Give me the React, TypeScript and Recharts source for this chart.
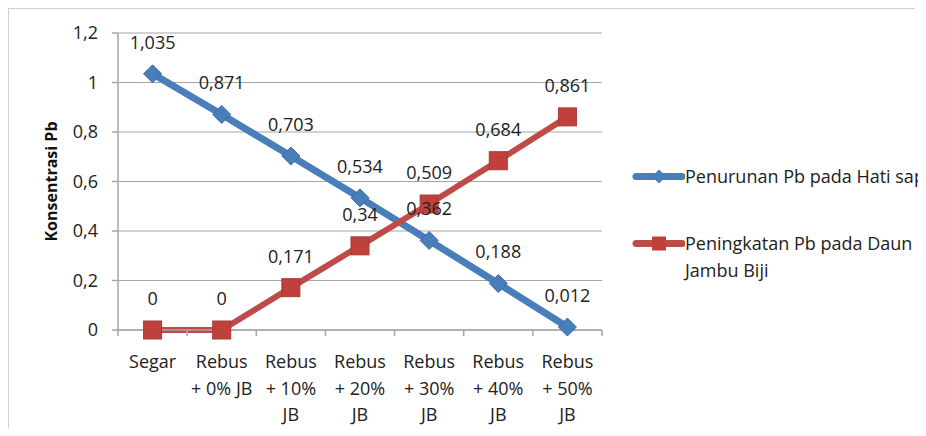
import React from "react";
import { LineChart, Line, XAxis, YAxis, CartesianGrid, LabelList } from "recharts";

const categories = [
  "Segar",
  "Rebus\n+ 0% JB",
  "Rebus\n+ 10%\nJB",
  "Rebus\n+ 20%\nJB",
  "Rebus\n+ 30%\nJB",
  "Rebus\n+ 40%\nJB",
  "Rebus\n+ 50%\nJB",
];
const penurunan = [1.035, 0.871, 0.703, 0.534, 0.362, 0.188, 0.012];
const peningkatan = [0, 0, 0.171, 0.34, 0.509, 0.684, 0.861];
const yTicks = [0, 0.2, 0.4, 0.6, 0.8, 1, 1.2];
const seriesNames = ["Penurunan Pb pada Hati sapi", "Peningkatan Pb pada Daun\nJambu Biji"];
const yLabel = "Konsentrasi Pb";

const data = categories.map((c, i) => ({ cat: c, a: penurunan[i], b: peningkatan[i] }));

const FONT = "'Open Sans', sans-serif";
const FS = 18;
const BLUE = "#4A7EBB";
const RED = "#BE4B48";
const AXIS = "#a6a6a6";

const fmt = (v: number) => String(v).replace(".", ",");

const W = 918;
const H = 420;
const M = { top: 25, right: 324, bottom: 18, left: 50 };
const BAND = (W - M.left - M.right - 60) / categories.length;

const Diamond = (props: any) => {
  const { cx, cy } = props;
  if (cx == null || cy == null) return null;
  const r = 9;
  return (
    <path
      d={`M${cx},${cy - r} L${cx + r},${cy} L${cx},${cy + r} L${cx - r},${cy} Z`}
      fill="#4A7EBB"
      stroke="#3C6AA3"
      strokeWidth={1}
    />
  );
};

const Square = (props: any) => {
  const { cx, cy } = props;
  if (cx == null || cy == null) return null;
  const r = 9;
  return <rect x={cx - r} y={cy - r} width={2 * r} height={2 * r} fill="#C0403C" stroke="#A83834" strokeWidth={1} />;
};

const ValueLabel = (props: any) => {
  const { x, y, value } = props;
  return (
    <text x={x} y={y - 32} textAnchor="middle" dominantBaseline="central" fontFamily={FONT} fontSize={FS} fill="#222">
      {fmt(value)}
    </text>
  );
};

const XTick = (props: any) => {
  const { x, y, payload, index } = props;
  const lines = String(payload.value).split("\n");
  const ay = y - 8;
  return (
    <g>
      <line x1={x - BAND / 2} x2={x - BAND / 2} y1={ay} y2={ay + 6} stroke={AXIS} strokeWidth={1.5} />
      {index === categories.length - 1 && (
        <line x1={x + BAND / 2} x2={x + BAND / 2} y1={ay} y2={ay + 6} stroke={AXIS} strokeWidth={1.5} />
      )}
      {lines.map((l, i) => (
        <text
          key={i}
          x={x}
          y={ay + 31 + i * 26.5}
          textAnchor="middle"
          dominantBaseline="central"
          fontFamily={FONT}
          fontSize={FS}
          fill="#222"
        >
          {l}
        </text>
      ))}
    </g>
  );
};

const LegendBox = () => {
  const items = [
    { color: BLUE, shape: "diamond", name: seriesNames[0] },
    { color: RED, shape: "square", name: seriesNames[1] },
  ];
  return (
    <div style={{ position: "absolute", left: 624, top: 155, fontFamily: FONT, fontSize: FS, color: "#222" }}>
      {items.map((it, i) => {
        const lines = it.name.split("\n");
        return (
          <div key={i} style={{ display: "flex", alignItems: "flex-start", marginBottom: i === 0 ? 40 : 0 }}>
            <svg width={53} height={27} style={{ flex: "none" }}>
              <line x1={4} x2={50} y1={13.5} y2={13.5} stroke={it.color} strokeWidth={7} strokeLinecap="round" />
              {it.shape === "diamond" ? (
                <path d="M27,6.5 L34,13.5 L27,20.5 L20,13.5 Z" fill={BLUE} />
              ) : (
                <rect x={20} y={6.5} width={14} height={14} fill="#C0403C" />
              )}
            </svg>
            <div style={{ whiteSpace: "nowrap", lineHeight: "27px" }}>
              {lines.map((l, j) => (
                <div key={j}>{l}</div>
              ))}
            </div>
          </div>
        );
      })}
    </div>
  );
};

export default function App() {
  return (
    <div style={{ position: "relative", width: W, height: H, overflow: "hidden" }}>
      <div
        style={{
          position: "absolute",
          left: -1,
          top: -1,
          width: 906,
          height: 440,
          borderTop: "2px solid #d0d0d0",
          borderLeft: "2px solid #d0d0d0",
        }}
      />
      <LineChart width={W} height={H} data={data} margin={M}>
        <CartesianGrid vertical={false} stroke={AXIS} strokeWidth={1.2} />
        <XAxis
          dataKey="cat"
          interval={0}
          tick={<XTick />}
          tickLine={false}
          tickSize={6}
          tickMargin={2}
          height={80}
          padding={{ left: BAND / 2, right: BAND / 2 }}
          stroke={AXIS}
          axisLine={{ stroke: AXIS, strokeWidth: 1.5 }}
        />
        <YAxis
          domain={[0, 1.2]}
          ticks={yTicks}
          width={60}
          tickFormatter={fmt}
          tickSize={6}
          tickMargin={14}
          tickLine={{ stroke: AXIS, strokeWidth: 1.5 }}
          axisLine={{ stroke: AXIS, strokeWidth: 1.5 }}
          tick={{ fontFamily: FONT, fontSize: FS, fill: "#222" }}
          label={{
            value: yLabel,
            angle: -90,
            position: "insideLeft",
            dx: -12,
            style: { fontFamily: FONT, fontSize: 16, fontWeight: 700, fill: "#111", textAnchor: "middle" },
          }}
        />
        <Line
          dataKey="a"
          name={seriesNames[0]}
          stroke={BLUE}
          strokeWidth={7}
          dot={<Diamond />}
          activeDot={false}
          isAnimationActive={false}
        >
          <LabelList dataKey="a" content={<ValueLabel />} />
        </Line>
        <Line
          dataKey="b"
          name={seriesNames[1]}
          stroke={RED}
          strokeWidth={6}
          dot={<Square />}
          activeDot={false}
          isAnimationActive={false}
        >
          <LabelList dataKey="b" content={<ValueLabel />} />
        </Line>
      </LineChart>
      <LegendBox />
    </div>
  );
}
